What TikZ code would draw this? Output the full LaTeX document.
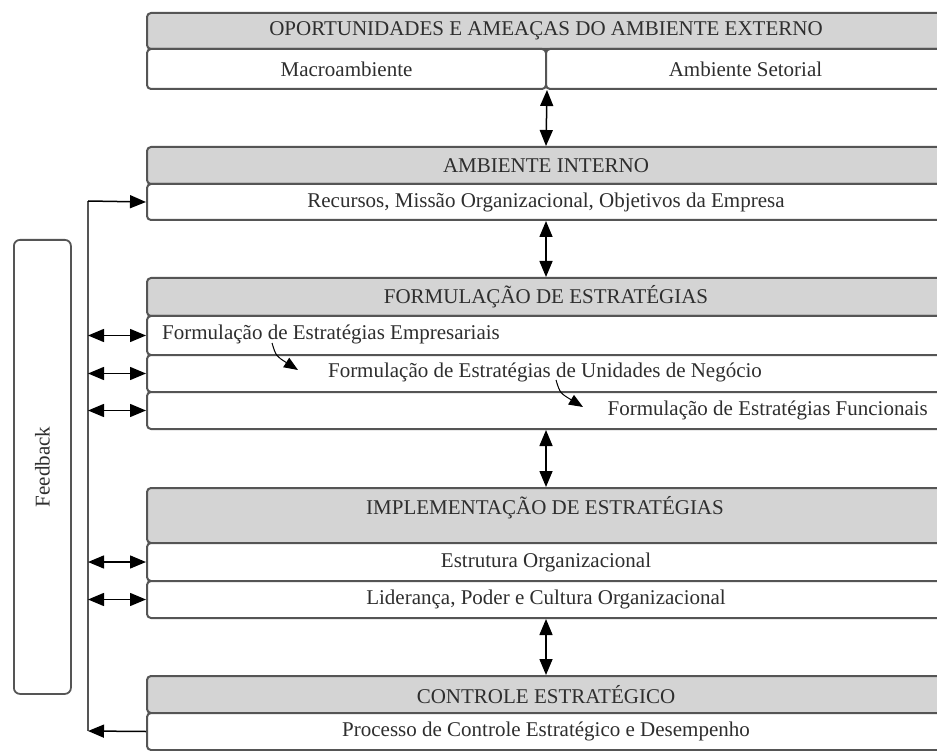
\documentclass[tikz,border=0pt]{standalone}
\usepackage{fontspec}
\setmainfont{Liberation Serif}
\usetikzlibrary{arrows.meta}
\definecolor{hdr}{HTML}{D4D4D4}
\definecolor{bord}{HTML}{555555}
\definecolor{txt}{HTML}{2E2E2E}
\begin{document}
\begin{tikzpicture}[x=1pt,y=-1pt,
 hbox/.style={draw=bord, line width=2pt, fill=hdr, rounded corners=4pt, anchor=north west, minimum width=798pt, inner sep=0pt},
 rbox/.style={draw=bord, line width=2pt, fill=white, rounded corners=4pt, anchor=north west, minimum width=798pt, inner sep=0pt},
 lbl/.style={text=txt, font=\fontsize{21}{23}\selectfont, inner sep=0pt},
 dbl/.style={{Triangle[length=16pt,width=13pt]}-{Triangle[length=16pt,width=13pt]}, line width=1.5pt},
 sgl/.style={-{Triangle[length=16pt,width=13pt]}, line width=1.5pt},
 fbbox/.style={draw=bord, line width=1.8pt, rounded corners=6pt, anchor=north west, minimum width=57pt, minimum height=454pt, inner sep=0pt},
]
\useasboundingbox (0,0) rectangle (937,751);
\fill[white] (0,0) rectangle (937,751);

% group 1
\node[hbox, minimum height=36pt] (h1) at (146,12) {};
\node[rbox, minimum width=399pt, minimum height=40pt] (r1a) at (146,48) {};
\node[rbox, minimum width=399pt, minimum height=40pt] (r1b) at (545,48) {};
\node[lbl] (t1) at (h1.center) {OPORTUNIDADES E AMEAÇAS DO AMBIENTE EXTERNO};
\node[lbl] (t1a) at (r1a.center) {Macroambiente};
\node[lbl] (t1b) at (r1b.center) {Ambiente Setorial};

% group 2
\node[hbox, minimum height=37pt] (h2) at (146,146) {};
\node[rbox, minimum height=36pt] (r2) at (146,183) {};
\node[lbl] (t2) at (h2.center) {AMBIENTE INTERNO};
\node[lbl] (t2r) at (r2.center) {Recursos, Missão Organizacional, Objetivos da Empresa};

% group 3
\node[hbox, minimum height=38pt] (h3) at (146,277) {};
\node[rbox, minimum height=39pt] (r31) at (146,315) {};
\node[rbox, minimum height=37pt] (r32) at (146,354) {};
\node[rbox, minimum height=37pt] (r33) at (146,391) {};
\node[lbl] (t3) at (h3.center) {FORMULAÇÃO DE ESTRATÉGIAS};
\node[lbl, anchor=west] (t31) at (162,334) {Formulação de Estratégias Empresariais};
\node[lbl] (t32) at (545,372) {Formulação de Estratégias de Unidades de Negócio};
\node[lbl, anchor=east] (t33) at (928,410) {Formulação de Estratégias Funcionais};

% group 4
\node[hbox, minimum height=55pt] (h4) at (146,487) {};
\node[rbox, minimum height=38pt] (r41) at (146,542) {};
\node[rbox, minimum height=37pt] (r42) at (146,580) {};
\node[lbl] (t4) at (545,508) {IMPLEMENTAÇÃO DE ESTRATÉGIAS};
\node[lbl] (t41) at (r41.center) {Estrutura Organizacional};
\node[lbl] (t42) at (r42.center) {Liderança, Poder e Cultura Organizacional};

% group 5
\node[hbox, minimum height=37pt] (h5) at (146,675) {};
\node[rbox, minimum height=37pt] (r5) at (146,712) {};
\node[lbl] (t5) at (h5.center) {CONTROLE ESTRATÉGICO};
\node[lbl] (t5r) at (r5.center) {Processo de Controle Estratégico e Desempenho};

% feedback box
\node[fbbox] (fb) at (13,239) {};
\node[lbl, rotate=90] (tfb) at (fb.center) {Feedback};

% vertical arrows
\draw[dbl] (r1a.south east) -- (h2.north);
\draw[dbl] (r2.south) -- (h3.north);
\draw[dbl] (r33.south) -- (h4.north);
\draw[dbl] (r42.south) -- (h5.north);

% feedback loop
\coordinate (fbt) at (88,201);
\coordinate (fbb) at (88,731);
\draw[line width=1.5pt, draw=bord] (fbb) -- (fbt);
\draw[sgl] (fbt) -- (r2.west);
\draw[sgl] (r5.west) -- (fbb);
\draw[dbl] (r31.west -| fbt) -- (r31.west);
\draw[dbl] (r32.west -| fbt) -- (r32.west);
\draw[dbl] (r33.west -| fbt) -- (r33.west);
\draw[dbl] (r41.west -| fbt) -- (r41.west);
\draw[dbl] (r42.west -| fbt) -- (r42.west);

% diagonal arrows
\coordinate (d1s) at (272,343);
\coordinate (d1e) at (298,370);
\coordinate (d2s) at (556,380);
\coordinate (d2e) at (583,407);
\draw[-{Triangle[length=14pt,width=11pt]}, line width=1pt] (d1s) .. controls (276,356) .. (d1e);
\draw[-{Triangle[length=14pt,width=11pt]}, line width=1pt] (d2s) .. controls (560,393) .. (d2e);
\end{tikzpicture}
\end{document}
